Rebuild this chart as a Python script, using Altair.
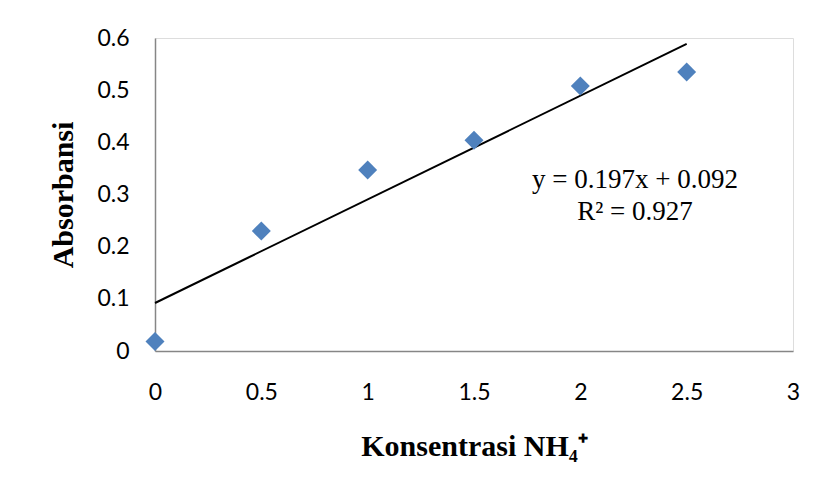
import altair as alt
import pandas as pd

konsentrasi = [0, 0.5, 1, 1.5, 2, 2.5]
absorbansi = [0.018, 0.230, 0.347, 0.404, 0.508, 0.535]
eq_lines = ["y = 0.197x + 0.092", "R² = 0.927"]
eq_x = [2.257, 2.257]
eq_y = [0.328, 0.266]

df = pd.DataFrame({"x": konsentrasi, "y": absorbansi})
df_eq = pd.DataFrame({"text": eq_lines, "x": eq_x, "y": eq_y})

xscale = alt.Scale(domain=[0, 3], nice=False, zero=True)
yscale = alt.Scale(domain=[0, 0.6], nice=False)

xaxis = alt.Axis(
    values=[0, 0.5, 1, 1.5, 2, 2.5, 3], grid=False, ticks=False,
    domainColor="#868686", domainWidth=1.5,
    labelFont="Lato", labelFontSize=23, labelColor="#000000", labelPadding=30,
    labelFlush=False, labelExpr="datum.value",
    title="Konsentrasi NH₄⁺", titleFont="Liberation Serif", titleFontSize=30,
    titleFontWeight="bold", titleColor="#000000", titlePadding=27,
)
yaxis = alt.Axis(
    values=[0, 0.1, 0.2, 0.3, 0.4, 0.5, 0.6], grid=False, ticks=False,
    domainColor="#868686", domainWidth=1.5,
    labelFont="Lato", labelFontSize=23, labelColor="#000000", labelPadding=26,
    labelFlush=False, labelExpr="datum.value",
    title="Absorbansi", titleFont="Liberation Serif", titleFontSize=30,
    titleFontWeight="bold", titleColor="#000000", titlePadding=18,
)

points = alt.Chart(df).mark_point(
    shape="diamond", filled=True, color="#4F81BD", size=360, opacity=1
).encode(
    x=alt.X("x:Q", scale=xscale, axis=xaxis),
    y=alt.Y("y:Q", scale=yscale, axis=yaxis),
)

trend = alt.Chart(df).transform_regression(
    "x", "y", method="linear", extent=[0, 2.5]
).mark_line(color="#000000", strokeWidth=2).encode(
    x=alt.X("x:Q", scale=xscale),
    y=alt.Y("y:Q", scale=yscale),
)

eq = alt.Chart(df_eq).mark_text(
    font="Liberation Serif", fontSize=27, color="#000000", align="center", baseline="middle"
).encode(
    x=alt.X("x:Q", scale=xscale),
    y=alt.Y("y:Q", scale=yscale),
    text="text:N",
)

chart = alt.layer(trend, points, eq).properties(
    width=638, height=313,
    autosize=alt.AutoSizeParams(type="none"),
    padding={"left": 155, "top": 38, "right": 26, "bottom": 140},
).configure_view(stroke=None).configure(background="#ffffff")

chart.save("out.html", embed_options={"renderer": "svg", "actions": False})
